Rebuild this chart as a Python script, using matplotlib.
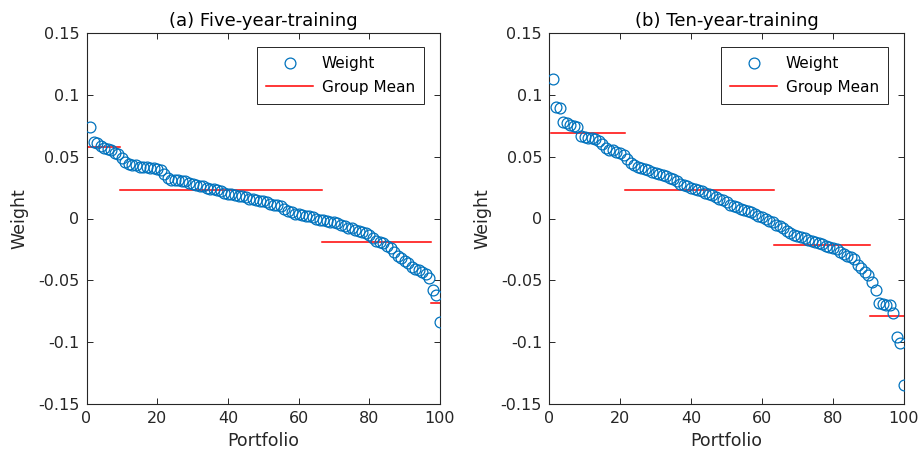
import matplotlib
matplotlib.use("Agg")
import matplotlib.pyplot as plt
from matplotlib.lines import Line2D
import numpy as np

# ---------------- data ----------------
portfolio = list(range(1, 101))

weights_a = [
    0.074, 0.062, 0.061, 0.059, 0.057, 0.056, 0.055, 0.053, 0.052,
    0.049, 0.046, 0.044, 0.043, 0.043, 0.042, 0.042, 0.042, 0.041, 0.041,
    0.040, 0.039, 0.036, 0.033, 0.031, 0.031, 0.031, 0.030, 0.030, 0.029,
    0.028, 0.027, 0.026, 0.026, 0.025, 0.024, 0.024, 0.023, 0.022, 0.021,
    0.020, 0.020, 0.019, 0.018, 0.018, 0.017, 0.016, 0.016, 0.015, 0.014,
    0.014, 0.013, 0.012, 0.011, 0.011, 0.010, 0.008, 0.006, 0.005, 0.004,
    0.004, 0.003, 0.002, 0.002, 0.001, 0.000, -0.001,
    -0.001, -0.002, -0.003, -0.003, -0.004, -0.005, -0.006, -0.008, -0.008,
    -0.009, -0.010, -0.011, -0.012, -0.013, -0.016, -0.018, -0.019, -0.020,
    -0.022, -0.024, -0.027, -0.030, -0.032, -0.034, -0.036, -0.039, -0.041,
    -0.042, -0.043, -0.045, -0.048,
    -0.058, -0.062, -0.084,
]

weights_b = [
    0.113, 0.090, 0.089, 0.078, 0.077, 0.076, 0.075, 0.074, 0.067, 0.066,
    0.065, 0.065, 0.064, 0.063, 0.060, 0.057, 0.055, 0.055, 0.054, 0.053,
    0.051,
    0.048, 0.045, 0.043, 0.042, 0.041, 0.040, 0.039, 0.038, 0.037, 0.036,
    0.035, 0.034, 0.033, 0.032, 0.030, 0.028, 0.027, 0.026, 0.025, 0.024,
    0.023, 0.022, 0.021, 0.020, 0.019, 0.017, 0.016, 0.015, 0.013, 0.011,
    0.010, 0.009, 0.008, 0.007, 0.006, 0.005, 0.004, 0.002, 0.001, 0.000,
    -0.002, -0.003,
    -0.005, -0.006, -0.008, -0.010, -0.012, -0.013, -0.014, -0.015, -0.016,
    -0.017, -0.018, -0.019, -0.020, -0.021, -0.022, -0.023, -0.024, -0.025,
    -0.027, -0.029, -0.030, -0.031, -0.033, -0.038, -0.040, -0.043, -0.046,
    -0.0515, -0.058, -0.068, -0.069, -0.0696, -0.070, -0.0766, -0.0955,
    -0.101, -0.135,
]

# group boundaries (portfolio index) and group means
group_edges_a = [0.5, 9.5, 66.5, 97.5, 100.5]
group_means_a = [0.058, 0.0227, -0.0194, -0.068]
group_edges_b = [0.5, 21.5, 63.5, 90.5, 100.5]
group_means_b = [0.069, 0.0227, -0.0216, -0.079]

titles = ["(a) Five-year-training", "(b) Ten-year-training"]
xticks = [0, 20, 40, 60, 80, 100]
yticks = [-0.15, -0.1, -0.05, 0, 0.05, 0.1, 0.15]
yticklabels = ["-0.15", "-0.1", "-0.05", "0", "0.05", "0.1", "0.15"]

# ---------------- style ----------------
plt.rcParams["font.family"] = ["DejaVu Sans"]
BLUE = (0.0, 0.447, 0.741)
RED = (1.0, 0.0, 0.0)
AXC = (0.15, 0.15, 0.15)

W, H = 919, 466
fig = plt.figure(figsize=(W / 100, H / 100), dpi=100)

axes_px = [(86.5, 440), (549, 904)]
top_px, bot_px = 33, 404

panels = [
    (weights_a, group_edges_a, group_means_a),
    (weights_b, group_edges_b, group_means_b),
]

MS = 7.8
for k, ((l, r), (wts, edges, means)) in enumerate(zip(axes_px, panels)):
    ax = fig.add_axes([l / W, 1 - bot_px / H, (r - l) / W, (bot_px - top_px) / H])
    ax.plot(portfolio, wts, linestyle="none", marker="o", markersize=MS,
            markerfacecolor="none", markeredgecolor=BLUE, markeredgewidth=0.9,
            zorder=3)
    for g in range(len(means)):
        ax.plot([edges[g], edges[g + 1]], [means[g], means[g]],
                color=RED, linewidth=1.1, zorder=2)
    ax.set_xlim(0, 100)
    ax.set_ylim(-0.15, 0.15)
    ax.set_xticks(xticks)
    ax.set_xticklabels([str(t) for t in xticks])
    ax.set_yticks(yticks)
    ax.set_yticklabels(yticklabels)
    ax.tick_params(direction="in", length=4.5, width=0.7, colors=AXC,
                   labelsize=11.5, top=True, right=True, pad=5)
    for s in ax.spines.values():
        s.set_color(AXC)
        s.set_linewidth(0.8)
    ax.set_title(titles[k], fontsize=13, color="black", pad=5)
    ax.set_xlabel("Portfolio", fontsize=12.5, color=AXC, labelpad=4)
    ax.set_ylabel("Weight", fontsize=12.5, color=AXC, labelpad=7)

    handles = [
        Line2D([], [], linestyle="none", marker="o", markersize=MS,
               markerfacecolor="none", markeredgecolor=BLUE, markeredgewidth=0.9),
        Line2D([], [], color=RED, linewidth=1.1),
    ]
    leg = ax.legend(handles, ["Weight", "Group Mean"], loc="upper right",
                    bbox_to_anchor=(1 - 16 / (r - l), 1 - 14 / (bot_px - top_px)),
                    borderaxespad=0, fontsize=11, fancybox=False, framealpha=1,
                    edgecolor=AXC, handlelength=3.1, handletextpad=0.55,
                    borderpad=0.6, labelspacing=0.55)
    leg.get_frame().set_linewidth(0.7)

fig.savefig("out.png", dpi=100)
